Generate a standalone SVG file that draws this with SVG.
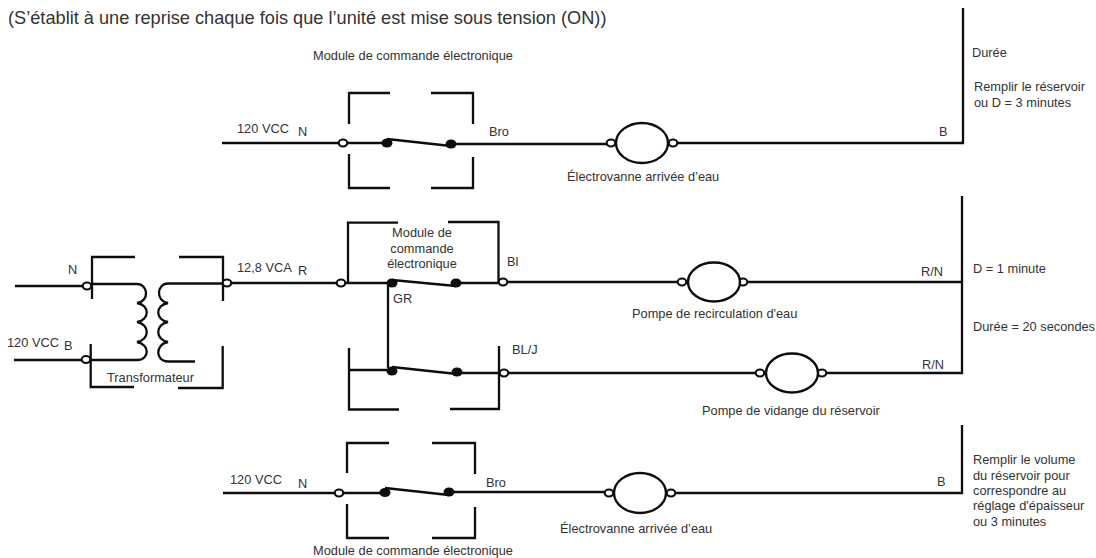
<svg xmlns="http://www.w3.org/2000/svg" width="1096" height="558" viewBox="0 0 1096 558">
<style>
text{font-family:"Liberation Sans",Arial,sans-serif;font-size:12.8px;fill:#333}
.h{font-size:18.2px}
.w{fill:none;stroke:#0d0d0d;stroke-width:2.3}
.o{fill:#fff;stroke:#0d0d0d;stroke-width:2.2}
.e{fill:#fff;stroke:#0d0d0d;stroke-width:2.4}
.d{fill:#0d0d0d}
.m{text-anchor:middle}
</style>
<rect width="1096" height="558" fill="#fff"/>
<g id="connectors" class="w">
<path d="M222 143H339M347 143H387M451 144H607M677 143H963V8"/>
<path d="M15 286H83M14 360H82"/>
<path d="M231 283H337M346 283H392M456 283H499M508 282H678M747 282H962M962 196V373H826"/>
<path d="M388 283V368M349 370H392"/>
<path d="M457 373H500M508 373H756"/>
<path d="M223 493H335M343 493H385M449 492H605M675 493H962V425"/>
<path d="M92 284H137C148 284 150 301 137 303C150 305 150 320 137 322C150 324 150 340 137 342C150 344 150 360 137 360H91"/>
<path d="M222 283.500H168C157 283.500 155 301 168 303C155 305 155 320 168 322C155 324 155 340 168 342C155 344 155 361.500 168 361.500H195"/>
</g>
<g id="header"><text class="h" x="8" y="23.500">(S’établit à une reprise chaque fois que l’unité est mise sous tension (ON))</text></g>
<g id="transformer">
<path class="w" d="M92 299V257H135M179 257H223V301M90.700 344V387H134M178 388H222.700V346"/>
<ellipse class="o" cx="87" cy="286" rx="4.300" ry="3.500"/>
<ellipse class="o" cx="86" cy="359.500" rx="4.300" ry="3.500"/>
<ellipse class="o" cx="227" cy="283" rx="4.300" ry="3.500"/>
<text x="68" y="274">N</text><text x="7" y="347">120 VCC</text><text x="64" y="350">B</text>
<text x="107" y="382">Transformateur</text><text x="237" y="272">12,8 VCA</text><text x="298" y="275">R</text>
</g>
<g id="module-1">
<path class="w" d="M349 124V93H390M431 93H473V124M349 154V188H390M431 188H473V157M387 139L451 146"/>
<ellipse class="o" cx="343" cy="143" rx="4.300" ry="3.500"/>
<ellipse class="d" cx="387" cy="143" rx="5.500" ry="4.500"/><ellipse class="d" cx="451" cy="144" rx="5.500" ry="4.500"/>
<text x="313" y="60">Module de commande électronique</text>
<text x="237" y="133">120 VCC</text><text x="298" y="136">N</text><text x="489" y="136">Bro</text>
</g>
<g id="valve-1">
<ellipse class="o" cx="611" cy="143" rx="4.300" ry="3.500"/><ellipse class="o" cx="673" cy="143" rx="4.300" ry="3.500"/>
<ellipse class="e" cx="642" cy="143" rx="26" ry="20"/>
<text x="567" y="181">Électrovanne arrivée d’eau</text>
<text x="939" y="136">B</text><text x="972" y="57">Durée</text><text x="974" y="91">Remplir le réservoir</text><text x="974" y="107">ou D = 3 minutes</text>
</g>
<g id="module-2">
<path class="w" d="M348 283V222.700H398M448 222H498.500V282M392 280L456 286"/>
<ellipse class="o" cx="341" cy="283" rx="4.300" ry="3.500"/><ellipse class="o" cx="503" cy="282" rx="4.300" ry="3.500"/>
<ellipse class="d" cx="392" cy="283" rx="5.500" ry="4.500"/><ellipse class="d" cx="456" cy="283" rx="5.500" ry="4.500"/>
<text class="m" x="422" y="237">Module de</text><text class="m" x="422" y="252.700">commande</text><text class="m" x="422" y="268">électronique</text>
<text x="507" y="265.500">Bl</text><text x="393" y="303">GR</text>
</g>
<g id="pump-1">
<ellipse class="o" cx="682" cy="282" rx="4.300" ry="3.500"/><ellipse class="o" cx="743" cy="282" rx="4.300" ry="3.500"/>
<ellipse class="e" cx="714" cy="282" rx="26" ry="19.500"/>
<text x="632" y="318">Pompe de recirculation d'eau</text>
<text x="921" y="276">R/N</text><text x="973" y="273">D = 1 minute</text><text x="973" y="331">Durée = 20 secondes</text>
</g>
<g id="module-3">
<path class="w" d="M349 348V409.500H399M450 409H499V346M392 367L457 374"/>
<ellipse class="o" cx="504" cy="373" rx="4.300" ry="3.500"/>
<ellipse class="d" cx="392" cy="371" rx="5.500" ry="4.500"/><ellipse class="d" cx="457" cy="372" rx="5.500" ry="4.500"/>
<text x="512" y="354">BL/J</text>
</g>
<g id="pump-2">
<ellipse class="o" cx="760" cy="373" rx="4.300" ry="3.500"/><ellipse class="o" cx="822" cy="373" rx="4.300" ry="3.500"/>
<ellipse class="e" cx="792" cy="373" rx="26" ry="19.500"/>
<text x="702" y="415">Pompe de vidange du réservoir</text><text x="922" y="369">R/N</text>
</g>
<g id="module-4">
<path class="w" d="M347 473V443H389M432 443H475V474M347 504V538H389M432 538H475V507M385 488L449 495"/>
<ellipse class="o" cx="339" cy="493" rx="4.300" ry="3.500"/>
<ellipse class="d" cx="385" cy="492.500" rx="5.500" ry="4.500"/><ellipse class="d" cx="449" cy="492" rx="5.500" ry="4.500"/>
<text x="230" y="484">120 VCC</text><text x="298" y="488">N</text><text x="486" y="487">Bro</text>
<text x="313" y="555">Module de commande électronique</text>
</g>
<g id="valve-2">
<ellipse class="o" cx="609" cy="493" rx="4.300" ry="3.500"/><ellipse class="o" cx="671" cy="493" rx="4.300" ry="3.500"/>
<ellipse class="e" cx="640" cy="493" rx="26" ry="20"/>
<text x="560" y="533">Électrovanne arrivée d’eau</text>
<text x="937" y="486">B</text>
<text x="973" y="464">Remplir le volume</text><text x="973" y="480">du réservoir pour</text><text x="973" y="495">correspondre au</text><text x="973" y="510">réglage d'épaisseur</text><text x="973" y="526">ou 3 minutes</text>
</g>
</svg>
